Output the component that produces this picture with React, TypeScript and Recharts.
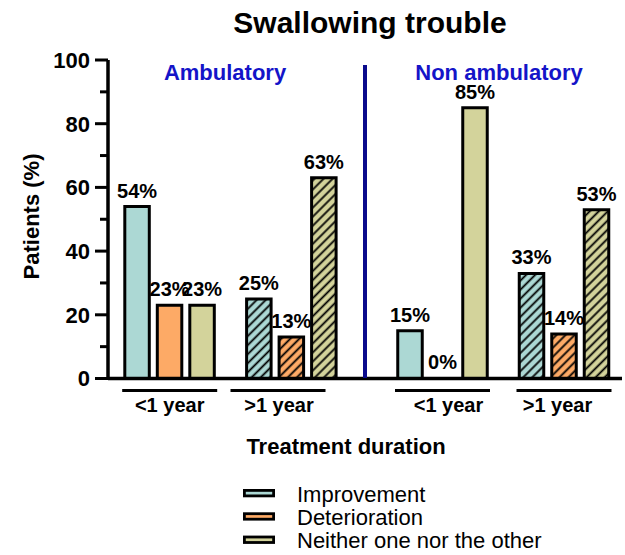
import React from 'react';
import { BarChart, Bar, XAxis, YAxis, LabelList, Cell } from 'recharts';

const chartTitle = 'Swallowing trouble';
const groupTitles = ['Ambulatory', 'Non ambulatory'];
const durations = ['<1 year', '>1 year'];
const seriesNames = ['Improvement', 'Deterioration', 'Neither one nor the other'];
const seriesColors = ['#acd8d4', '#fdaa66', '#d3d39b'];

const ambImprovement = [54, 25];
const ambDeterioration = [23, 13];
const ambNeither = [23, 63];
const nonImprovement = [15, 33];
const nonDeterioration = [0, 14];
const nonNeither = [85, 53];

const yTicks = [0, 10, 20, 30, 40, 50, 60, 70, 80, 90, 100];
const yLabel = 'Patients (%)';
const xLabel = 'Treatment duration';

const data = durations.map((d, i) => ({
  duration: d,
  ambImp: ambImprovement[i],
  ambDet: ambDeterioration[i],
  ambNei: ambNeither[i],
  nonImp: nonImprovement[i],
  nonDet: nonDeterioration[i],
  nonNei: nonNeither[i],
}));

const FONT = "'Liberation Sans', Arial, Helvetica, sans-serif";

const ambKeys = ['ambImp', 'ambDet', 'ambNei'];
const nonKeys = ['nonImp', 'nonDet', 'nonNei'];

const YTick = (props: any) => {
  const { x, y, payload } = props;
  const major = payload.value % 20 === 0;
  return (
    <g>
      <line x1={x - (major ? 13 : 8)} x2={x} y1={y} y2={y} stroke="#000" strokeWidth={3} />
      {major && (
        <text x={x - 18} y={y} dy="0.36em" textAnchor="end" fontFamily={FONT} fontSize={22} fontWeight="bold" fill="#000">
          {payload.value}
        </text>
      )}
    </g>
  );
};

const makeXTick = (bracketShift: number[], labelShift: number[], yAdj: number) => (props: any) => {
  const { x, y, payload, index } = props;
  const i = typeof index === 'number' ? index : payload.index;
  const yy = y + yAdj;
  return (
    <g>
      <line x1={x - 47.5 + bracketShift[i]} x2={x + 47.5 + bracketShift[i]} y1={yy + 12} y2={yy + 12} stroke="#000" strokeWidth={3} />
      <text x={x + labelShift[i]} y={yy + 33.5} textAnchor="middle" fontFamily={FONT} fontSize={20} fontWeight="bold" fill="#000">
        {payload.value}
      </text>
    </g>
  );
};

const ambTick = makeXTick([0, -13.5], [0, -12.5], 0);
const nonTick = makeXTick([0, 0], [6, -6.5], -1);

const pct = (v: any) => `${v}%`;

export default function App() {
  const renderBars = (keys: string[], xId: string, yId: string) =>
    keys.map((k, si) => (
      <Bar
        key={k}
        dataKey={k}
        xAxisId={xId}
        yAxisId={yId}
        barSize={24.5}
        minPointSize={0.01}
        stroke="#000"
        strokeWidth={3}
        fill={seriesColors[si]}
        isAnimationActive={false}
      >
        {data.map((_, i) => (
          <Cell key={i} fill={i === 1 ? `url(#hatch${si})` : seriesColors[si]} />
        ))}
        <LabelList
          dataKey={k}
          position="top"
          offset={9}
          formatter={pct}
          fill="#000"
          fontSize={20}
          fontWeight="bold"
          fontFamily={FONT}
        />
      </Bar>
    ));

  return (
    <div style={{ position: 'absolute', left: 0, top: 0, width: 625, height: 555, background: '#fff' }}>
      <svg width={0} height={0} style={{ position: 'absolute' }}>
        <defs>
          {seriesColors.map((c, i) => (
            <pattern key={i} id={`hatch${i}`} patternUnits="userSpaceOnUse" width={6.4} height={6.4} patternTransform="rotate(45)">
              <rect width={6.4} height={6.4} fill={c} />
              <line x1={3.2} y1={0} x2={3.2} y2={6.4} stroke="#000" strokeWidth={1.8} />
            </pattern>
          ))}
        </defs>
      </svg>
      <BarChart
        width={625}
        height={555}
        data={data}
        barGap={8}
        margin={{ top: 60, right: 3, bottom: 174.5, left: 0 }}
      >
        <XAxis
          xAxisId="amb"
          dataKey="duration"
          height={1}
          padding={{ left: 0.8, right: 269.6 }}
          axisLine={{ stroke: '#000', strokeWidth: 3.5 }}
          tickLine={false}
          tickSize={0}
          tickMargin={0}
          tick={ambTick}
          interval={0}
        />
        <XAxis
          xAxisId="non"
          dataKey="duration"
          height={1}
          padding={{ left: 273.75, right: -2.75 }}
          axisLine={false}
          tickLine={false}
          tickSize={0}
          tickMargin={0}
          tick={nonTick}
          interval={0}
        />
        <YAxis
          yAxisId="l"
          width={108}
          domain={[0, 100]}
          ticks={yTicks}
          interval={0}
          axisLine={{ stroke: '#000', strokeWidth: 3.5 }}
          tickLine={false}
          tickSize={0}
          tickMargin={0}
          tick={YTick}
        />
        <YAxis yAxisId="r" hide domain={[0, 100]} />
        {renderBars(ambKeys, 'amb', 'l')}
        {renderBars(nonKeys, 'non', 'r')}
      </BarChart>
      <svg width={625} height={555} style={{ position: 'absolute', left: 0, top: 0, pointerEvents: 'none' }}>
        <text x={370} y={33} textAnchor="middle" fontFamily={FONT} fontSize={30} fontWeight="bold" fill="#000">
          {chartTitle}
        </text>
        <text x={225} y={80} textAnchor="middle" fontFamily={FONT} fontSize={22} fontWeight="bold" fill="#1414c8">
          {groupTitles[0]}
        </text>
        <text x={499} y={80} textAnchor="middle" fontFamily={FONT} fontSize={22} fontWeight="bold" fill="#1414c8">
          {groupTitles[1]}
        </text>
        <line x1={365} x2={365} y1={65} y2={378} stroke="#0a0a8c" strokeWidth={4} />
        <text
          x={39}
          y={216.5}
          transform="rotate(-90 39 216.5)"
          textAnchor="middle"
          fontFamily={FONT}
          fontSize={22}
          fontWeight="bold"
          fill="#000"
        >
          {yLabel}
        </text>
        <text x={346} y={454} textAnchor="middle" fontFamily={FONT} fontSize={22} fontWeight="bold" fill="#000">
          {xLabel}
        </text>
        {seriesNames.map((n, i) => (
          <g key={n}>
            <rect x={244.4} y={490.4 + i * 23.3} width={29.2} height={5.5} fill={seriesColors[i]} stroke="#000" strokeWidth={2.8} />
            <text x={297} y={502 + i * 23.2} fontFamily={FONT} fontSize={22} fill="#000">
              {n}
            </text>
          </g>
        ))}
      </svg>
    </div>
  );
}
